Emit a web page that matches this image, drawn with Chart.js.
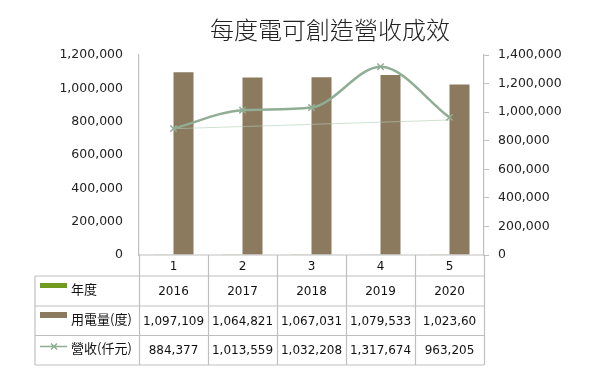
<!DOCTYPE html>
<html>
<head>
<meta charset="utf-8">
<title>每度電可創造營收成效</title>
<script src="https://cdn.jsdelivr.net/npm/chart.js@4/dist/chart.umd.min.js"></script>
<style>
    html, body { margin: 0; padding: 0; background: #fff; }
    #wrap { width: 604px; height: 371px; position: relative; }
</style>
</head>
<body>
<div id="wrap"><canvas id="energy-chart"></canvas></div>
<script>
    "use strict";

    // Data
    var categories = ["1", "2", "3", "4", "5"];
    var years = [2016, 2017, 2018, 2019, 2020];
    var usage = [1097109, 1064821, 1067031, 1079533, 1023600];
    var revenue = [884377, 1013559, 1032208, 1317674, 963205];
    var trend = [884000, null, null, null, 945000];
    var usageText = ["1,097,109", "1,064,821", "1,067,031", "1,079,533", "1,023,60"];
    var leftTicks = [0, 200000, 400000, 600000, 800000, 1000000, 1200000];
    var rightTicks = [0, 200000, 400000, 600000, 800000, 1000000, 1200000, 1400000];

    var GREEN = "#6f9c1e";
    var BROWN = "#8b7a5e";
    var LINE = "#8fae94";
    var GRID = "#bfbfbf";
    var NUM_FONT = "12px 'DejaVu Sans'";
    var CJK_FONT = "13px 'Noto Sans CJK TC'";

    function fmt(v) {
        return v.toLocaleString("en-US");
    }

    // Title + data table under the plot
    var tablePlugin = {
        id: "tablePlugin",
        afterDraw: function (chart) {
            var ctx = chart.ctx;
            var area = chart.chartArea;
            var n = categories.length;
            var w = (area.right - area.left) / n;
            var tableLeft = 35;
            var rows = [area.bottom, 276, 306, 335.5, 365];

            ctx.save();

            // title
            ctx.fillStyle = "#222";
            ctx.font = "300 24px 'Noto Sans CJK TC'";
            ctx.textAlign = "center";
            ctx.textBaseline = "middle";
            ctx.fillText("每度電可創造營收成效", 330, 30);

            // grid
            ctx.strokeStyle = GRID;
            ctx.lineWidth = 1.2;
            ctx.beginPath();
            ctx.moveTo(area.left, rows[0]);
            ctx.lineTo(area.right, rows[0]);
            for (var r = 1; r < rows.length; r++) {
                ctx.moveTo(tableLeft, rows[r]);
                ctx.lineTo(area.right, rows[r]);
            }
            for (var i = 0; i <= n; i++) {
                var x = Math.round(area.left + w * i) + 0.5;
                ctx.moveTo(x, rows[0]);
                ctx.lineTo(x, rows[4]);
            }
            ctx.moveTo(tableLeft, rows[1]);
            ctx.lineTo(tableLeft, rows[4]);
            ctx.stroke();

            // category labels and values
            ctx.fillStyle = "#111";
            ctx.font = NUM_FONT;
            ctx.textAlign = "center";
            for (var c = 0; c < n; c++) {
                var cx = area.left + w * (c + 0.5);
                ctx.fillText(categories[c], cx, (rows[0] + rows[1]) / 2 + 1);
                ctx.fillText(String(years[c]), cx, (rows[1] + rows[2]) / 2 + 1);
                ctx.fillText(usageText[c], cx, (rows[2] + rows[3]) / 2 + 1);
                ctx.fillText(fmt(revenue[c]), cx, (rows[3] + rows[4]) / 2 + 1);
            }

            // row headers with legend keys
            ctx.fillStyle = GREEN;
            ctx.fillRect(40, rows[1] + 7, 27, 5);
            ctx.fillStyle = BROWN;
            ctx.fillRect(40, rows[2] + 6, 27, 6);
            ctx.strokeStyle = LINE;
            ctx.lineWidth = 1.5;
            ctx.beginPath();
            ctx.moveTo(40, rows[3] + 11);
            ctx.lineTo(67, rows[3] + 11);
            ctx.moveTo(51, rows[3] + 8);
            ctx.lineTo(57, rows[3] + 14);
            ctx.moveTo(57, rows[3] + 8);
            ctx.lineTo(51, rows[3] + 14);
            ctx.stroke();

            ctx.fillStyle = "#111";
            ctx.font = CJK_FONT;
            ctx.textAlign = "left";
            ctx.fillText("年度", 71, (rows[1] + rows[2]) / 2 - 2);
            ctx.fillText("用電量(度)", 71, (rows[2] + rows[3]) / 2 - 2);
            ctx.fillText("營收(仟元)", 71, (rows[3] + rows[4]) / 2 - 2);

            ctx.restore();
        }
    };

    // Energy / revenue chart
    var ctx1 = document.getElementById("energy-chart").getContext("2d");
    var myChart1 = new Chart(ctx1, {
        type: "bar",
        data: {
            labels: categories,
            datasets: [{
                    label: "營收(仟元)",
                    type: "line",
                    data: revenue,
                    yAxisID: "y1",
                    borderColor: LINE,
                    backgroundColor: LINE,
                    borderWidth: 2.5,
                    cubicInterpolationMode: "monotone",
                    pointStyle: "crossRot",
                    pointRadius: 4.5,
                    pointBorderWidth: 1.5,
                    order: 0
                },
                {
                    label: "trend",
                    type: "line",
                    data: trend,
                    yAxisID: "y1",
                    borderColor: "rgba(175, 205, 180, 0.6)",
                    borderWidth: 1,
                    pointRadius: 0,
                    spanGaps: true,
                    tension: 0,
                    order: 1
                },
                {
                    label: "年度",
                    data: years,
                    yAxisID: "y",
                    backgroundColor: GREEN,
                    order: 2
                },
                {
                    label: "用電量(度)",
                    data: usage,
                    yAxisID: "y",
                    backgroundColor: BROWN,
                    order: 2
                }
            ]
        },
        options: {
            responsive: true,
            maintainAspectRatio: false,
            animation: false,
            categoryPercentage: 0.58,
            barPercentage: 1,
            layout: {
                padding: { top: 55, bottom: 116, left: 0, right: 0 }
            },
            plugins: {
                legend: { display: false },
                tooltip: { enabled: false },
                title: { display: false }
            },
            scales: {
                x: {
                    display: false
                },
                y: {
                    position: "left",
                    min: 0,
                    max: 1200000,
                    afterFit: function (scale) { scale.width = 139; },
                    afterBuildTicks: function (scale) {
                        scale.ticks = leftTicks.map(function (v) { return { value: v }; });
                    },
                    grid: { display: true, drawOnChartArea: false, drawTicks: false },
                    border: { display: true, color: GRID, width: 1.2 },
                    ticks: {
                        padding: 16,
                        color: "#222",
                        font: { family: "DejaVu Sans", size: 12.5 },
                        callback: function (v) { return fmt(v); }
                    }
                },
                y1: {
                    position: "right",
                    min: 0,
                    max: 1400000,
                    afterFit: function (scale) { scale.width = 120; },
                    afterBuildTicks: function (scale) {
                        scale.ticks = rightTicks.map(function (v) { return { value: v }; });
                    },
                    grid: { drawOnChartArea: false, drawTicks: true, tickLength: 5, color: GRID },
                    border: { display: true, color: GRID, width: 1.2 },
                    ticks: {
                        padding: 9,
                        color: "#222",
                        font: { family: "DejaVu Sans", size: 12.5 },
                        callback: function (v) { return fmt(v); }
                    }
                }
            }
        },
        plugins: [tablePlugin]
    });
</script>
</body>
</html>
